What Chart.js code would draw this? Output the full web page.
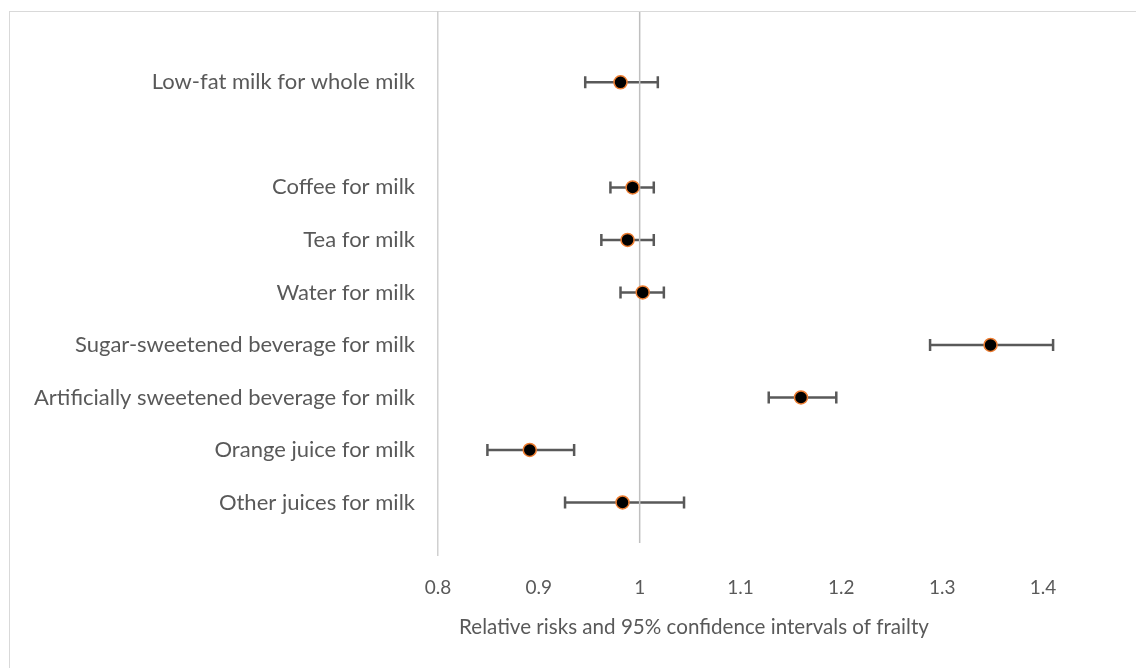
<!DOCTYPE html>
<html>
<head>
<meta charset="utf-8">
<script src="https://cdn.jsdelivr.net/npm/chart.js@4.4.0/dist/chart.umd.min.js"></script>
<style>
    body { margin: 0; overflow: hidden; background: #fff; }
    #wrap { position: relative; width: 1136px; height: 668px; }
    #frame { position: absolute; left: 9px; top: 11px; width: 1300px; height: 800px; border: 1.5px solid #d9d9d9; }
    canvas { position: absolute; left: 0; top: 0; }
</style>
</head>
<body>
<div id="wrap">
    <div id="frame"></div>
    <canvas id="chartCanvas" width="1136" height="668"></canvas>
</div>
<script>
// rows from top to bottom (row 8 is left empty)
const categories = [
    "Low-fat milk for whole milk",
    "Coffee for milk",
    "Tea for milk",
    "Water for milk",
    "Sugar-sweetened beverage for milk",
    "Artificially sweetened beverage for milk",
    "Orange juice for milk",
    "Other juices for milk"
];
const rowPos = [9, 7, 6, 5, 4, 3, 2, 1];
const relRisk = [0.981, 0.993, 0.988, 1.003, 1.348, 1.160, 0.891, 0.983];
const ciLow = [0.946, 0.971, 0.962, 0.981, 1.288, 1.128, 0.849, 0.926];
const ciHigh = [1.018, 1.014, 1.014, 1.024, 1.410, 1.195, 0.935, 1.044];
const xTicks = [0.8, 0.9, 1, 1.1, 1.2, 1.3, 1.4];
const refLine = [{ x: 1, y: 0.23 }, { x: 1, y: 10.34 }];

const textColor = "#595959";
const fontFamily = "Lato, 'Open Sans', sans-serif";

const points = rowPos.map((y, i) => ({ x: relRisk[i], y: y }));

// draws the confidence interval whiskers under the points
const errorBars = {
    id: "errorBars",
    beforeDatasetsDraw(chart) {
        const ctx = chart.ctx;
        const xs = chart.scales.x;
        const ys = chart.scales.y;
        ctx.save();
        ctx.strokeStyle = "#595959";
        ctx.lineWidth = 2.5;
        rowPos.forEach((row, i) => {
            const y = ys.getPixelForValue(row);
            const x1 = xs.getPixelForValue(ciLow[i]);
            const x2 = xs.getPixelForValue(ciHigh[i]);
            ctx.beginPath();
            ctx.moveTo(x1, y);
            ctx.lineTo(x2, y);
            ctx.moveTo(x1, y - 6);
            ctx.lineTo(x1, y + 6);
            ctx.moveTo(x2, y - 6);
            ctx.lineTo(x2, y + 6);
            ctx.stroke();
        });
        ctx.restore();
    }
};

// axis title sits left of the plot centre, as in the original
const axisTitle = {
    id: "axisTitle",
    afterDraw(chart) {
        const ctx = chart.ctx;
        const area = chart.chartArea;
        ctx.save();
        ctx.fillStyle = textColor;
        ctx.font = "20.6px " + fontFamily;
        ctx.textAlign = "center";
        ctx.textBaseline = "middle";
        ctx.fillText("Relative risks and 95% confidence intervals of frailty", area.left + 256, 627);
        ctx.restore();
    }
};

const ctx = document.getElementById("chartCanvas").getContext("2d");
new Chart(ctx, {
    type: "scatter",
    data: {
        datasets: [
            {
                label: "RR",
                data: points,
                backgroundColor: "#000000",
                borderColor: "#ed7d31",
                borderWidth: 1.5,
                pointRadius: 6.5,
                order: 1
            },
            {
                label: "ref",
                data: refLine,
                showLine: true,
                borderColor: "#bfbfbf",
                borderWidth: 1.5,
                pointRadius: 0,
                order: 2
            }
        ]
    },
    options: {
        responsive: false,
        animation: false,
        layout: { padding: { left: 9, top: 12, right: 93, bottom: 0 } },
        plugins: {
            legend: { display: false },
            tooltip: { enabled: false }
        },
        scales: {
            x: {
                type: "linear",
                min: 0.8,
                max: 1.4,
                afterBuildTicks: (scale) => { scale.ticks = xTicks.map(v => ({ value: v })); },
                afterFit: (scale) => { scale.height = 113; },
                grid: { display: false },
                border: { display: false },
                ticks: {
                    color: textColor,
                    font: { family: fontFamily, size: 19 },
                    padding: 13,
                    callback: (v) => String(Math.round(v * 10) / 10)
                }
            },
            y: {
                type: "linear",
                min: 0,
                max: 10.34,
                afterBuildTicks: (scale) => { scale.ticks = rowPos.map(v => ({ value: v })); },
                afterFit: (scale) => {
                    scale.width = 429;
                    scale.paddingTop = 0;
                    scale.paddingBottom = 0;
                },
                grid: { display: false },
                border: { display: true, color: "#d0d0d0", width: 1.5 },
                ticks: {
                    color: textColor,
                    font: { family: fontFamily, size: 22 },
                    padding: 15,
                    callback: (v) => {
                        const i = rowPos.indexOf(v);
                        return i >= 0 ? categories[i] : "";
                    }
                }
            }
        }
    },
    plugins: [errorBars, axisTitle]
});
</script>
</body>
</html>
